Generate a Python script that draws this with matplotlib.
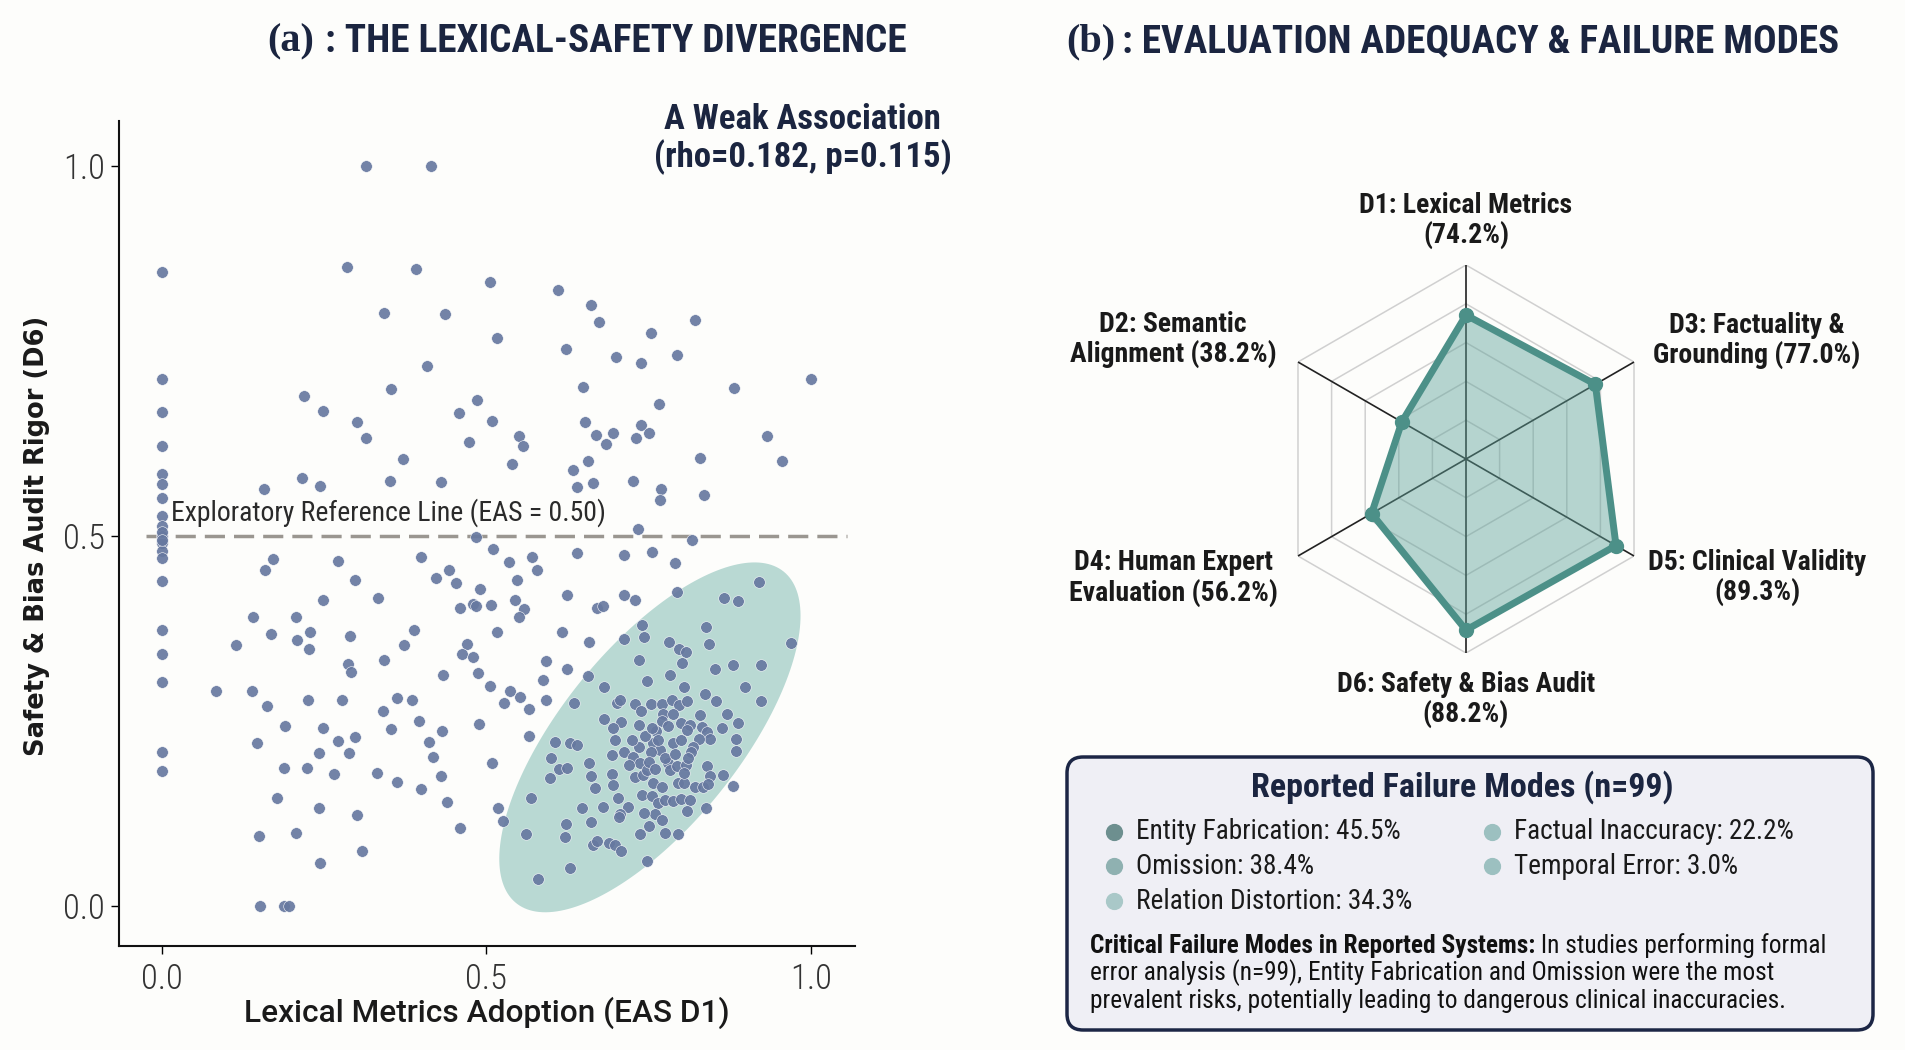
import numpy as np
import matplotlib
matplotlib.use("Agg")
import matplotlib.pyplot as plt
from matplotlib import font_manager as fm
from matplotlib.patches import FancyBboxPatch

# --- fonts ---
names = {f.name for f in fm.fontManager.ttflist}
NARROW = next((n for n in ["Roboto Condensed", "Liberation Sans Narrow", "DejaVu Sans Condensed"]
               if n in names), "Roboto")

NAVY = "#1b2540"
SLATE = "#6779a0"
TEAL = "#4c9088"

# --- panel (a) data: EAS D1 vs EAS D6 per study ---
eas_d1 = [
    0, 0, 0, 0, 0, 0, 0, 0, 0, 0, 0, 0, 0, 0, 0, 0, 0, 0, 0, 0, 0,
    0.314, 0.415, 0.285, 0.392, 0.506, 0.343, 0.437, 0.516, 0.408, 0.353, 0.219, 0.485, 0.248, 0.458,
    0.300, 0.509, 0.315, 0.473, 0.371, 0.158, 0.216, 0.244, 0.351, 0.430, 0.484,
    0.611, 0.662, 0.673, 0.821, 0.753, 0.622, 0.699, 0.738, 0.794, 1.000, 0.881, 0.649, 0.766, 0.652,
    0.739, 0.550, 0.557, 0.669, 0.695, 0.730, 0.750, 0.684, 0.933, 0.539, 0.657, 0.634, 0.829, 0.955,
    0.640, 0.665, 0.726, 0.769, 0.768, 0.835, 0.734, 0.817,
    0.172, 0.159, 0.272, 0.298, 0.400, 0.423, 0.443, 0.453, 0.490, 0.511, 0.333, 0.248, 0.459, 0.479,
    0.484, 0.507, 0.140, 0.206, 0.168, 0.229, 0.209, 0.226, 0.115, 0.290, 0.389, 0.373, 0.517, 0.470,
    0.462, 0.480, 0.343, 0.287, 0.291, 0.433, 0.487, 0.505, 0.084, 0.139, 0.162, 0.225, 0.277, 0.362,
    0.386, 0.340, 0.190, 0.248, 0.353, 0.396, 0.431, 0.488, 0.146, 0.271, 0.298, 0.242, 0.288, 0.411,
    0.418, 0.188, 0.223, 0.265, 0.331, 0.362, 0.400, 0.430, 0.508, 0.177, 0.242, 0.300, 0.439, 0.460,
    0.149, 0.206, 0.309, 0.243, 0.151, 0.188, 0.196,
    0.535, 0.571, 0.578, 0.639, 0.712, 0.755, 0.790, 0.547, 0.544, 0.558, 0.550, 0.624, 0.670, 0.679,
    0.712, 0.729, 0.793, 0.866, 0.887, 0.920, 0.617, 0.658, 0.740, 0.743, 0.712, 0.839, 0.843, 0.781,
    0.797, 0.808, 0.801, 0.970, 0.735, 0.592, 0.624, 0.657, 0.587, 0.880, 0.923, 0.852, 0.783, 0.747,
    0.681, 0.805, 0.899, 0.837, 0.537, 0.552, 0.527, 0.566, 0.592, 0.635, 0.854, 0.923, 0.566, 0.681,
    0.701, 0.706, 0.729, 0.739, 0.753, 0.771, 0.786, 0.797, 0.809, 0.772, 0.788, 0.829, 0.871, 0.887,
    0.863, 0.885, 0.885, 0.707, 0.695, 0.698, 0.770, 0.780, 0.762, 0.800, 0.814, 0.809, 0.832, 0.840,
    0.845, 0.827, 0.819, 0.815, 0.757, 0.767, 0.754, 0.788, 0.606, 0.629, 0.639, 0.600, 0.612, 0.624,
    0.598, 0.658, 0.661, 0.668, 0.693, 0.693, 0.695, 0.712, 0.726, 0.736, 0.729, 0.742, 0.747, 0.757,
    0.770, 0.780, 0.783, 0.793, 0.807, 0.840, 0.844, 0.864, 0.880, 0.796, 0.805, 0.822, 0.834, 0.842,
    0.703, 0.718, 0.706, 0.705, 0.740, 0.755, 0.765, 0.775, 0.788, 0.800, 0.814, 0.809, 0.760, 0.770,
    0.743, 0.838, 0.648, 0.679, 0.661, 0.622, 0.621, 0.569, 0.518, 0.525, 0.561, 0.751, 0.736, 0.776,
    0.795, 0.665, 0.671, 0.689, 0.698, 0.707, 0.747, 0.629, 0.580,
    0.745, 0.755, 0.735, 0.765, 0.775, 0.750, 0.760, 0.790, 0.725, 0.800, 0.810, 0.735, 0.720, 0.805,
]
eas_d6 = [
    0.857, 0.712, 0.668, 0.622, 0.584, 0.571, 0.551, 0.527, 0.513, 0.500, 0.490, 0.480, 0.470, 0.439,
    0.373, 0.340, 0.303, 0.208, 0.182, 0.505, 0.495,
    1.000, 1.000, 0.864, 0.861, 0.844, 0.802, 0.800, 0.768, 0.730, 0.699, 0.689, 0.684, 0.669, 0.667,
    0.654, 0.655, 0.633, 0.627, 0.604, 0.564, 0.579, 0.568, 0.574, 0.573, 0.499,
    0.833, 0.812, 0.789, 0.792, 0.774, 0.753, 0.742, 0.734, 0.745, 0.712, 0.700, 0.701, 0.678, 0.654,
    0.650, 0.635, 0.622, 0.636, 0.639, 0.632, 0.639, 0.625, 0.635, 0.597, 0.601, 0.589, 0.606, 0.601,
    0.566, 0.572, 0.575, 0.564, 0.549, 0.555, 0.509, 0.495,
    0.469, 0.454, 0.467, 0.441, 0.472, 0.444, 0.454, 0.436, 0.429, 0.483, 0.416, 0.413, 0.403, 0.408,
    0.405, 0.407, 0.391, 0.391, 0.368, 0.370, 0.359, 0.347, 0.353, 0.365, 0.373, 0.353, 0.370, 0.354,
    0.341, 0.336, 0.333, 0.327, 0.316, 0.312, 0.315, 0.298, 0.290, 0.291, 0.271, 0.278, 0.279, 0.281,
    0.278, 0.264, 0.243, 0.240, 0.239, 0.250, 0.237, 0.246, 0.221, 0.223, 0.228, 0.207, 0.207, 0.222,
    0.201, 0.187, 0.187, 0.178, 0.180, 0.167, 0.158, 0.176, 0.193, 0.146, 0.132, 0.123, 0.141, 0.106,
    0.094, 0.099, 0.075, 0.058, 0.000, 0.000, 0.000,
    0.465, 0.472, 0.454, 0.477, 0.474, 0.479, 0.463, 0.441, 0.414, 0.402, 0.390, 0.421, 0.403, 0.405,
    0.421, 0.414, 0.425, 0.416, 0.412, 0.438, 0.370, 0.357, 0.380, 0.363, 0.361, 0.377, 0.354, 0.357,
    0.348, 0.343, 0.329, 0.356, 0.332, 0.331, 0.320, 0.311, 0.305, 0.326, 0.326, 0.320, 0.312, 0.304,
    0.296, 0.296, 0.296, 0.287, 0.290, 0.283, 0.275, 0.266, 0.279, 0.275, 0.277, 0.277, 0.230, 0.253,
    0.275, 0.278, 0.273, 0.263, 0.273, 0.273, 0.278, 0.272, 0.277, 0.260, 0.260, 0.258, 0.260, 0.248,
    0.241, 0.226, 0.210, 0.249, 0.240, 0.224, 0.250, 0.243, 0.236, 0.247, 0.245, 0.238, 0.242, 0.235,
    0.226, 0.226, 0.215, 0.208, 0.220, 0.211, 0.208, 0.220, 0.222, 0.220, 0.218, 0.200, 0.185, 0.187,
    0.173, 0.194, 0.176, 0.160, 0.204, 0.179, 0.163, 0.208, 0.202, 0.193, 0.175, 0.177, 0.184, 0.166,
    0.161, 0.193, 0.184, 0.189, 0.191, 0.189, 0.176, 0.177, 0.162, 0.166, 0.166, 0.161, 0.161, 0.165,
    0.146, 0.134, 0.125, 0.120, 0.150, 0.149, 0.139, 0.143, 0.142, 0.145, 0.143, 0.129, 0.125, 0.116,
    0.126, 0.133, 0.132, 0.134, 0.113, 0.111, 0.093, 0.146, 0.132, 0.115, 0.097, 0.108, 0.097, 0.099,
    0.097, 0.082, 0.088, 0.085, 0.082, 0.075, 0.061, 0.052, 0.036,
    0.230, 0.240, 0.215, 0.225, 0.200, 0.195, 0.185, 0.205, 0.225, 0.225, 0.200, 0.245, 0.190, 0.180,
]
rho, p_val = 0.182, 0.115
ref_level = 0.50

# highlighted cluster (centre in data units, semi-axes in screen pixels, angle on screen)
cluster_center = (0.752, 0.228)
cluster_axes_px = (213, 89)
cluster_angle = 51.1

# --- panel (b) data ---
dim_labels = ["D1: Lexical Metrics\n", "D3: Factuality &\nGrounding ", "D5: Clinical Validity\n",
              "D6: Safety & Bias Audit\n", "D4: Human Expert\nEvaluation ", "D2: Semantic\nAlignment "]
dim_values = [74.2, 77.0, 89.3, 88.2, 56.2, 38.2]
# label placement: (degrees clockwise from top, radius)
label_pos = [(0, 123), (67.8, 162), (112.1, 162), (180, 124), (247.9, 163), (292.2, 163)]

failure_modes = ["Entity Fabrication", "Omission", "Relation Distortion", "Factual Inaccuracy", "Temporal Error"]
failure_pct = [45.5, 38.4, 34.3, 22.2, 3.0]
failure_colors = ["#6d8f8f", "#8fb1b1", "#a9c8c8", "#9cc0c0", "#9cc0c0"]
n_failure = 99

W, H = 1905, 1050
fig = plt.figure(figsize=(W / 100, H / 100), dpi=100, facecolor="#fdfdfb")


def fx(px):
    return px / W


def fy(py):
    return 1 - py / H


# ================= (a) scatter =================
ax = fig.add_axes([fx(119), fy(946), fx(855 - 119), (946 - 121) / H])
ax.set_facecolor("#fdfdfb")
ax.set_xlim(-0.066, 1.068)
ax.set_ylim(-0.054, 1.061)

# cluster ellipse
sx = ax.bbox.width / (ax.get_xlim()[1] - ax.get_xlim()[0])
sy = ax.bbox.height / (ax.get_ylim()[1] - ax.get_ylim()[0])
t = np.linspace(0, 2 * np.pi, 200)
th = np.radians(cluster_angle)
a_px, b_px = cluster_axes_px
ex = cluster_center[0] + (a_px * np.cos(th) * np.cos(t) - b_px * np.sin(th) * np.sin(t)) / sx
ey = cluster_center[1] + (a_px * np.sin(th) * np.cos(t) + b_px * np.cos(th) * np.sin(t)) / sy
ax.fill(ex, ey, color="#9ccac3", alpha=0.7, lw=0, zorder=1)

ax.scatter(eas_d1, eas_d6, s=70, color=SLATE, alpha=0.92, edgecolor="white", linewidth=0.4, zorder=3)

ax.hlines(ref_level, -0.025, 1.055, colors="#9a9690", linestyles=(0, (5.8, 2.6)), lw=2.5, zorder=2)
ax.text(0.014, ref_level + 0.012, f"Exploratory Reference Line (EAS = {ref_level:.2f})",
        family=NARROW, fontsize=20, color="#2a2a2a", va="bottom", ha="left", zorder=4)

ax.text(0.929, 0.978, f"A Weak Association\n(rho={rho:.3f}, p={p_val:.3f})", transform=ax.transAxes,
        family=NARROW, fontsize=25, fontweight="bold", color=NAVY, ha="center", va="center",
        linespacing=1.1)

for s in ["top", "right"]:
    ax.spines[s].set_visible(False)
for s in ["left", "bottom"]:
    ax.spines[s].set_linewidth(1.5)
    ax.spines[s].set_color("#111111")
ax.set_xticks([0, 0.5, 1.0])
ax.set_yticks([0, 0.5, 1.0])
ax.set_xticklabels(["0.0", "0.5", "1.0"], family=NARROW, fontsize=25, fontweight="light", color="#333333")
ax.set_yticklabels(["0.0", "0.5", "1.0"], family=NARROW, fontsize=25, fontweight="light", color="#333333")
ax.tick_params(axis="x", length=6, width=1, pad=6)
ax.tick_params(axis="y", length=6, width=1, pad=4)
ax.set_xlabel("Lexical Metrics Adoption (EAS D1)", family="Roboto", fontsize=22.8, fontweight="medium",
              color="#1a1a1a")
ax.xaxis.set_label_coords(0.5, -0.062)
ax.set_ylabel("Safety & Bias Audit Rigor (D6)", family="DejaVu Sans", fontweight="bold",
              fontsize=18.5, color="#1a1a1a")
ax.yaxis.set_label_coords(-0.094, 0.497)

# ================= titles =================
fig.text(fx(267), fy(42), "(a)", family="Liberation Serif", fontweight="bold", fontsize=29,
         color=NAVY, va="center", ha="left")
fig.text(fx(325), fy(42), ": THE LEXICAL-SAFETY DIVERGENCE", family=NARROW, fontweight="bold",
         fontsize=28.3, color=NAVY, va="center", ha="left")
fig.text(fx(1066), fy(42), "(b)", family="Liberation Serif", fontweight="bold", fontsize=29,
         color=NAVY, va="center", ha="left")
fig.text(fx(1122), fy(42), ": EVALUATION ADEQUACY & FAILURE MODES", family=NARROW, fontweight="bold",
         fontsize=28.3, color=NAVY, va="center", ha="left")

# ================= (b) radar =================
R = 194
cx, cy = 1466, 459
rax = fig.add_axes([fx(cx - R), fy(cy + R), 2 * R / W, 2 * R / H], projection="polar")
rax.set_theta_offset(np.pi / 2)
rax.set_theta_direction(-1)
rax.set_ylim(0, 100)
rax.axis("off")
angles = np.radians(np.arange(len(dim_values)) * 360 / len(dim_values))
closed = np.append(angles, angles[0])
for ring in [20, 40, 60, 80, 100]:
    rax.plot(closed, [ring] * len(closed), color="#d0d0d0", lw=1.1, zorder=1)
for ang in angles:
    rax.plot([ang, ang], [0, 100], color="#222222", lw=1.2, zorder=2)
vals = np.append(dim_values, dim_values[0])
rax.fill(closed, vals, color="#5fa39a", alpha=0.45, lw=0, zorder=3)
rax.plot(closed, vals, color=TEAL, lw=5, zorder=4)
rax.plot(angles, dim_values, "o", color=TEAL, markersize=10, zorder=5)
for lab, v, (deg, rr) in zip(dim_labels, dim_values, label_pos):
    rax.text(np.radians(deg), rr, f"{lab}({v:.1f}%)", family=NARROW, fontweight="bold", fontsize=20,
             color="#1a1a1a", ha="center", va="center", multialignment="center", linespacing=1.1)

# ================= (b) failure-mode box =================
bx0, bx1, by0, by1 = 1067, 1873, 757, 1030
bax = fig.add_axes([fx(bx0), fy(by1), (bx1 - bx0) / W, (by1 - by0) / H])
bax.set_xlim(0, 1)
bax.set_ylim(0, 1)
bax.axis("off")
bw, bh = bx1 - bx0, by1 - by0
box = FancyBboxPatch((0, 0), 1, 1, boxstyle=f"round,pad=0,rounding_size={16 / bw:.4f}",
                     mutation_aspect=bw / bh, transform=bax.transAxes, facecolor="#efeff5",
                     edgecolor="#1c2645", lw=2.5, clip_on=False)
bax.add_patch(box)
bax.text(0.491, 0.89, f"Reported Failure Modes (n={n_failure})", family=NARROW, fontweight="bold",
         fontsize=24.5, color=NAVY, ha="center", va="center", transform=bax.transAxes)

bullet_x = [0.0583, 0.0583, 0.0583, 0.5273, 0.5273]
row_y = [0.7253, 0.6007, 0.4725, 0.7253, 0.6007]
for name, pct, col, bxp, ryp in zip(failure_modes, failure_pct, failure_colors, bullet_x, row_y):
    bax.scatter([bxp], [ryp], s=130, color=col, transform=bax.transAxes, clip_on=False)
    bax.text(bxp + 0.0273, ryp, f"{name}: {pct:.1f}%", family=NARROW, fontsize=19.6,
             color="#1a1a1a", ha="left", va="center", transform=bax.transAxes)

renderer = fig.canvas.get_renderer()
t1 = bax.text(0.0285, 0.3077, "Critical Failure Modes in Reported Systems:", family=NARROW,
              fontweight="bold", fontsize=18.3, color="#111111", ha="left", va="center",
              transform=bax.transAxes)
x_end = t1.get_window_extent(renderer).x1
x_end_ax = bax.transAxes.inverted().transform((x_end, 0))[0]
bax.text(x_end_ax, 0.3077, " In studies performing formal", family=NARROW, fontsize=18.3,
         color="#111111", ha="left", va="center", transform=bax.transAxes)
bax.text(0.0285, 0.2088, f"error analysis (n={n_failure}), Entity Fabrication and Omission were the most",
         family=NARROW, fontsize=18.3, color="#111111", ha="left", va="center", transform=bax.transAxes)
bax.text(0.0285, 0.1062, "prevalent risks, potentially leading to dangerous clinical inaccuracies.",
         family=NARROW, fontsize=18.3, color="#111111", ha="left", va="center", transform=bax.transAxes)

fig.savefig("out.png", dpi=100, facecolor=fig.get_facecolor())
